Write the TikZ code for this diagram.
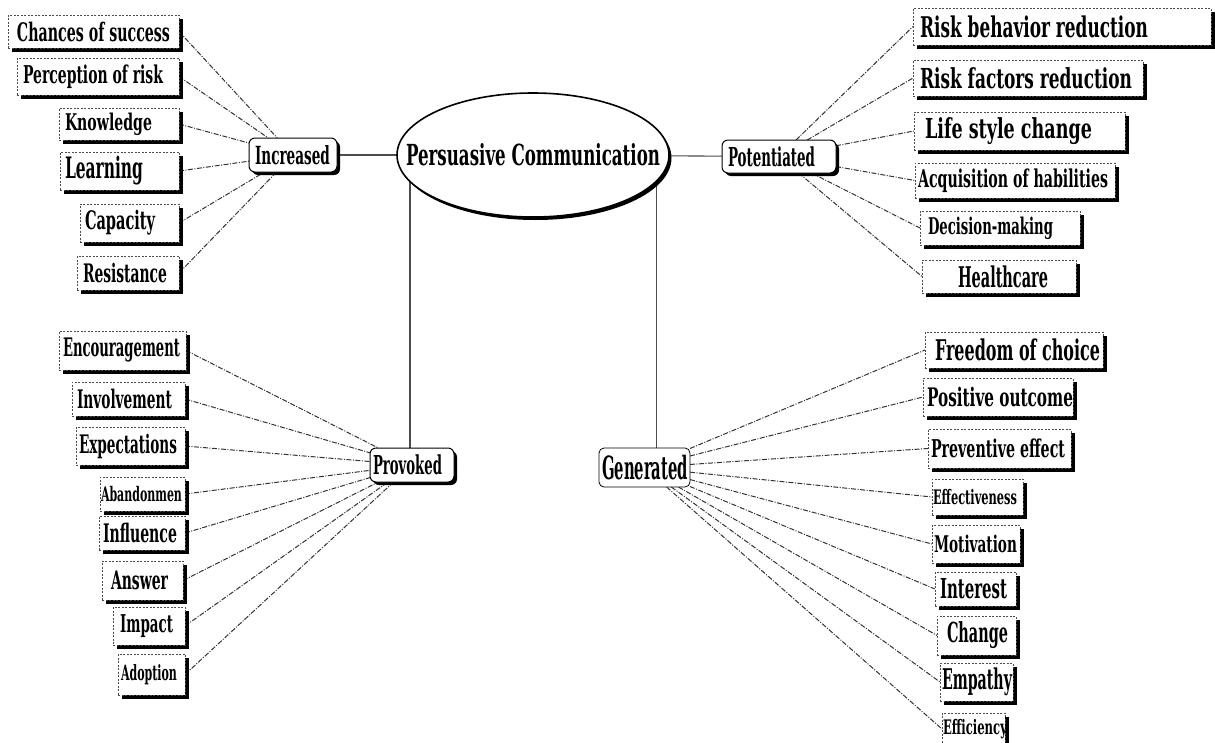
\documentclass[tikz,border=0pt]{standalone}
\usepackage{fontspec}
\setmainfont{DejaVu Serif}
\usetikzlibrary{shapes.geometric,shadows,backgrounds}
\tikzset{
  leafbox/.style={draw=gray!60!black, dash pattern=on 2pt off 1.5pt, line width=0.8pt, fill=white, inner sep=0pt, outer sep=0pt,
    drop shadow={shadow xshift=3.5pt, shadow yshift=-3.5pt, opacity=1, fill=black}},
  hubbox/.style={draw=black, line width=1pt, rounded corners=6pt, fill=white, inner sep=0pt, outer sep=0pt,
    drop shadow={shadow xshift=3pt, shadow yshift=-3pt, opacity=1, fill=black}},
  genbox/.style={draw=black, line width=0.8pt, rounded corners=5pt, fill=white, inner sep=0pt, outer sep=0pt},
  centre/.style={ellipse, draw=black, line width=1.6pt, fill=white, minimum width=272pt, minimum height=124pt, inner sep=0pt,
    drop shadow={shadow xshift=2.5pt, shadow yshift=-3pt, opacity=1, fill=black}},
  link/.style={draw=gray!40!black, line width=1pt, dash pattern=on 5pt off 1.5pt on 1pt off 1.5pt},
  trunk/.style={draw=gray!60!black, line width=1.1pt},
  bstyle/.style={leafbox}
}
% name, left, top, right, bottom, text-left, text-width, font size, text
\newcommand\bnode[9]{%
  \node[bstyle, minimum width={(#4-#2)*1pt}, minimum height={(#5-#3)*1pt}, anchor=north west] (#1) at (#2,#3)
  {\makebox[\dimexpr#4pt-#2pt\relax][l]{\hspace*{\dimexpr#6pt-#2pt\relax}\resizebox{#7pt}{\height}{\fontsize{#8pt}{#8pt}\selectfont\bfseries #9}}};}
\begin{document}
\begin{tikzpicture}[x=1pt,y=-1pt]
\useasboundingbox (0,0) rectangle (1215,742);
% centre
\node[centre] (pc) at (533,155) {\makebox[0pt]{\resizebox{254pt}{\height}{\fontsize{29pt}{29pt}\selectfont\bfseries Persuasive Communication}}};
% hubs
\tikzset{bstyle/.style={hubbox}}
\bnode{inc}{249}{138}{337}{172}{255}{75}{25}{Increased}
\bnode{pot}{722}{140}{836}{173}{728}{87}{26}{Potentiated}
\bnode{prov}{370}{448}{454}{482}{373}{69}{26}{Provoked}
\tikzset{bstyle/.style={genbox}}
\bnode{gen}{599}{448}{690}{487}{602}{86}{32}{Generated}
% leaves
\tikzset{bstyle/.style={leafbox}}
\bnode{cs}{8}{15}{179}{48}{17}{153}{25.5}{Chances of success}
\bnode{pr}{17}{58}{179}{95}{23}{140}{24.5}{Perception of risk}
\bnode{kn}{59}{108}{179}{140}{65}{87}{23}{Knowledge}
\bnode{le}{60}{152}{179}{190}{65}{78}{29.5}{Learning}
\bnode{ca}{80}{204}{179}{242}{85}{70}{25.5}{Capacity}
\bnode{re}{77}{256}{179}{290}{83}{84}{25.5}{Resistance}
%
\bnode{rb}{913}{8}{1211}{45}{920}{228}{28.5}{Risk behavior reduction}
\bnode{rf}{913}{60}{1143}{96}{920}{212}{27.5}{Risk factors reduction}
\bnode{ls}{914}{112}{1125}{150}{925}{167}{27.5}{Life style change}
\bnode{ah}{915}{163}{1115}{198}{918}{190}{24.5}{Acquisition of habilities}
\bnode{dm}{920}{211}{1080}{245}{928}{125}{23}{Decision-making}
\bnode{hc}{922}{260}{1076}{293}{958}{90}{28.5}{Healthcare}
%
\bnode{en}{59}{331}{186}{370}{63}{117}{25.5}{Encouragement}
\bnode{iv}{72}{382}{185}{416}{77}{95}{25.5}{Involvement}
\bnode{ex}{76}{427}{185}{465}{79}{98}{25.5}{Expectations}
\bnode{ab}{100}{477}{185}{511}{101}{81}{20}{Abandonmen}
\bnode{if}{99}{516}{185}{550}{103}{74}{25.5}{Influence}
\bnode{an}{102}{561}{183}{600}{111}{57}{25.5}{Answer}
\bnode{im}{113}{607}{185}{645}{120}{53}{24.5}{Impact}
\bnode{ad}{118}{654}{185}{695}{121}{56}{21}{Adoption}
%
\bnode{fc}{925}{332}{1103}{368}{935}{165}{28.5}{Freedom of choice}
\bnode{po}{923}{378}{1073}{416}{927}{146}{25.5}{Positive outcome}
\bnode{pe}{928}{429}{1071}{468}{931}{134}{24.5}{Preventive effect}
\bnode{ef}{932}{479}{1023}{515}{933}{84}{20}{Effectiveness}
\bnode{mo}{932}{525}{1020}{563}{934}{83}{23}{Motivation}
\bnode{in}{935}{572}{1016}{606}{940}{67}{27.5}{Interest}
\bnode{ch}{937}{616}{1016}{655}{947}{61}{27.5}{Change}
\bnode{em}{940}{663}{1013}{701}{942}{70}{28.5}{Empathy}
\bnode{ei}{942}{713}{1005}{745}{943}{64}{20}{Efficiency}
\coordinate (gtop) at ([xshift=12pt]gen.north);
\coordinate (ptop) at ([xshift=-2pt]prov.north);
\begin{scope}[on background layer]
\draw[trunk] (inc) -- (pc);
\draw[trunk] (pc) -- (pot);
\draw[trunk] (ptop |- pc.center) -- (ptop);
\draw[trunk] (gtop |- pc.center) -- (gtop);
\foreach \n in {cs,pr,kn,le,ca,re} \draw[link] (\n.east) -- (inc);
\foreach \n in {rb,rf,ls,ah,dm,hc} \draw[link] (pot) -- (\n.west);
\foreach \n in {en,iv,ex,ab,if,an,im,ad} \draw[link] (\n.east) -- (prov);
\foreach \n in {fc,po,pe,ef,mo,in,ch,em,ei} \draw[link] (gen) -- (\n.west);
\end{scope}
\end{tikzpicture}
\end{document}
